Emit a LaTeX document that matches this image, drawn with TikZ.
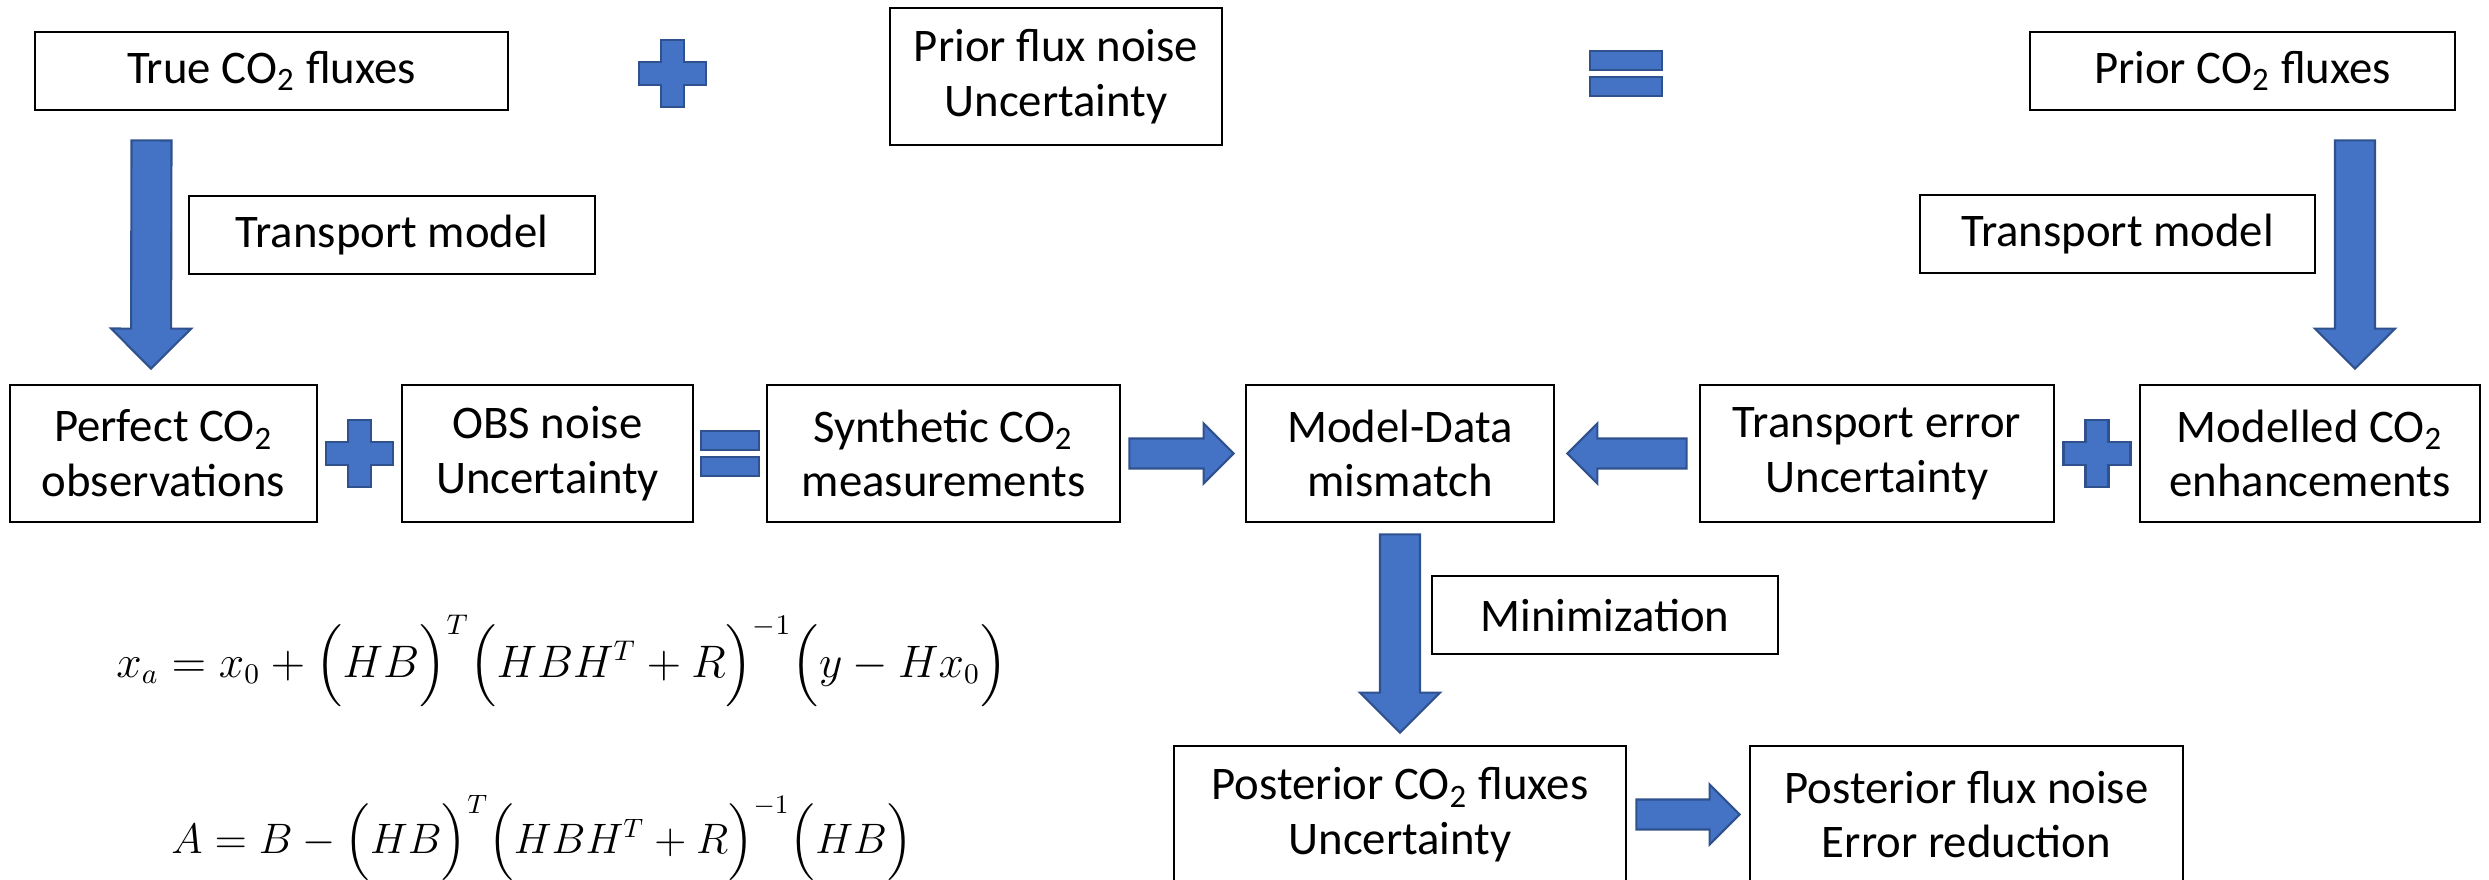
\documentclass[tikz,border=0pt]{standalone}
\usepackage{graphicx}
\usepackage{amsmath}
\usepackage{fontspec}
\setmainfont{Carlito}
\usetikzlibrary{calc}
\definecolor{arrowfill}{HTML}{4472C4}
\definecolor{arrowedge}{HTML}{2F528F}

% block arrow from #2 to #3, #1 = half width of the shaft in cm
\newcommand{\fatarrow}[3][0.2]{%
  \pgfmathsetmacro{\headw}{2*#1}
  \coordinate (fa) at (#2);
  \coordinate (fb) at (#3);
  \coordinate (fh) at ($(fb)!\headw cm!(fa)$);
  \draw [fat] ($(fa)!#1cm!90:(fb)$) -- ($(fh)!#1cm!-90:(fa)$) -- ($(fh)!\headw cm!-90:(fa)$) -- (fb)
    -- ($(fh)!\headw cm!90:(fa)$) -- ($(fh)!#1cm!90:(fa)$) -- ($(fa)!#1cm!-90:(fb)$) -- cycle;}

\begin{document}
\begin{tikzpicture}[font = \fontsize{13.3}{15.6}\selectfont,
  box/.style = {draw, line width = 0.8pt, align = center, inner sep = 0pt, minimum height = 0.78cm},
  tallbox/.style = {box, minimum height = 1.37cm},
  fat/.style = {fill = arrowfill, draw = arrowedge, line width = 0.6pt},
  plussign/.pic = {\draw [fat] (-0.115,0.335) -- (0.115,0.335) -- (0.115,0.115) -- (0.335,0.115)
    -- (0.335,-0.115) -- (0.115,-0.115) -- (0.115,-0.335) -- (-0.115,-0.335) -- (-0.115,-0.115)
    -- (-0.335,-0.115) -- (-0.335,0.115) -- (-0.115,0.115) -- cycle;},
  eqsign/.pic = {\draw [fat] (-0.36,0.035) rectangle (0.36,0.225);
    \draw [fat] (-0.36,-0.035) rectangle (0.36,-0.225);}]
\useasboundingbox (0,0) rectangle (24.89,-8.79);
\clip (0,0) rectangle (24.89,-8.79);

% fluxes
\node [box, minimum width = 4.73cm] (true) at (2.715,-0.71) {True CO\textsubscript{2} fluxes};
\node [tallbox, minimum width = 3.32cm] (noise) at (10.56,-0.765) {Prior flux noise\\Uncertainty};
\node [box, minimum width = 4.25cm] (prior) at (22.425,-0.71) {Prior CO\textsubscript{2} fluxes};
\node [box, minimum width = 4.06cm] (tmtrue) at (3.92,-2.35) {Transport model};
\node [box, minimum width = 3.95cm] (tmprior) at (21.175,-2.34) {Transport model};

% observations and model
\node [tallbox, minimum width = 3.07cm] (perfect) at (1.635,-4.535) {Perfect CO\textsubscript{2}\\observations};
\node [tallbox, minimum width = 2.91cm] (obs) at (5.475,-4.535) {OBS noise\\Uncertainty};
\node [tallbox, minimum width = 3.53cm] (synth) at (9.435,-4.535) {Synthetic CO\textsubscript{2}\\measurements};
\node [tallbox, minimum width = 3.08cm] (mismatch) at (14.0,-4.535) {Model-Data\\mismatch};
\node [tallbox, minimum width = 3.54cm] (terr) at (18.77,-4.535) {Transport error\\Uncertainty};
\node [tallbox, minimum width = 3.40cm] (modelled) at (23.10,-4.535) {Modelled CO\textsubscript{2}\\enhancements};

% inversion
\node [box, minimum width = 3.46cm] (minim) at (16.05,-6.15) {Minimization};
\node [tallbox, minimum width = 4.52cm] (post) at (14.0,-8.145) {Posterior CO\textsubscript{2} fluxes\\Uncertainty};
\node [tallbox, minimum width = 4.33cm] (postflux) at (19.665,-8.145) {Posterior flux noise\\Error reduction};

\node [inner sep = 0pt] (eqxa) at (5.62,-6.61) {\resizebox{8.91cm}{!}{$x_a = x_0 + \Bigl(HB\Bigr)^{T} \Bigl(HBH^{T} + R\Bigr)^{-1} \Bigl(y - Hx_0\Bigr)$}};
\node [inner sep = 0pt] (eqa) at (5.42,-8.38) {\resizebox{7.41cm}{!}{$A = B - \Bigl(HB\Bigr)^{T} \Bigl(HBH^{T} + R\Bigr)^{-1} \Bigl(HB\Bigr)$}};

% + and =
\pic at ($(true.east)!0.43!(noise.west)$) {plussign};
\pic at ($(noise.east)!0.5!(prior.west)$) {eqsign};
\pic at ($(perfect.east)!0.5!(obs.west)$) {plussign};
\pic [xscale = 0.8] at ($(obs.east)!0.5!(synth.west)$) {eqsign};
\pic at ($(terr.east)!0.5!(modelled.west)$) {plussign};

% block arrows
\fatarrow{[xshift=-1.2cm,yshift=-0.29cm]true.south}{[xshift=-0.125cm,yshift=0.15cm]perfect.north}
\fatarrow{[xshift=1.125cm,yshift=-0.29cm]prior.south}{[xshift=0.45cm,yshift=0.15cm]modelled.north}
\fatarrow[0.15]{[xshift=0.08cm]synth.east}{[xshift=-0.11cm]mismatch.west}
\fatarrow[0.15]{[xshift=-0.12cm]terr.west}{[xshift=0.12cm]mismatch.east}
\fatarrow{[yshift=-0.11cm]mismatch.south}{[yshift=0.12cm]post.north}
\fatarrow[0.15]{[xshift=0.09cm]post.east}{[xshift=-0.09cm]postflux.west}
\end{tikzpicture}
\end{document}
